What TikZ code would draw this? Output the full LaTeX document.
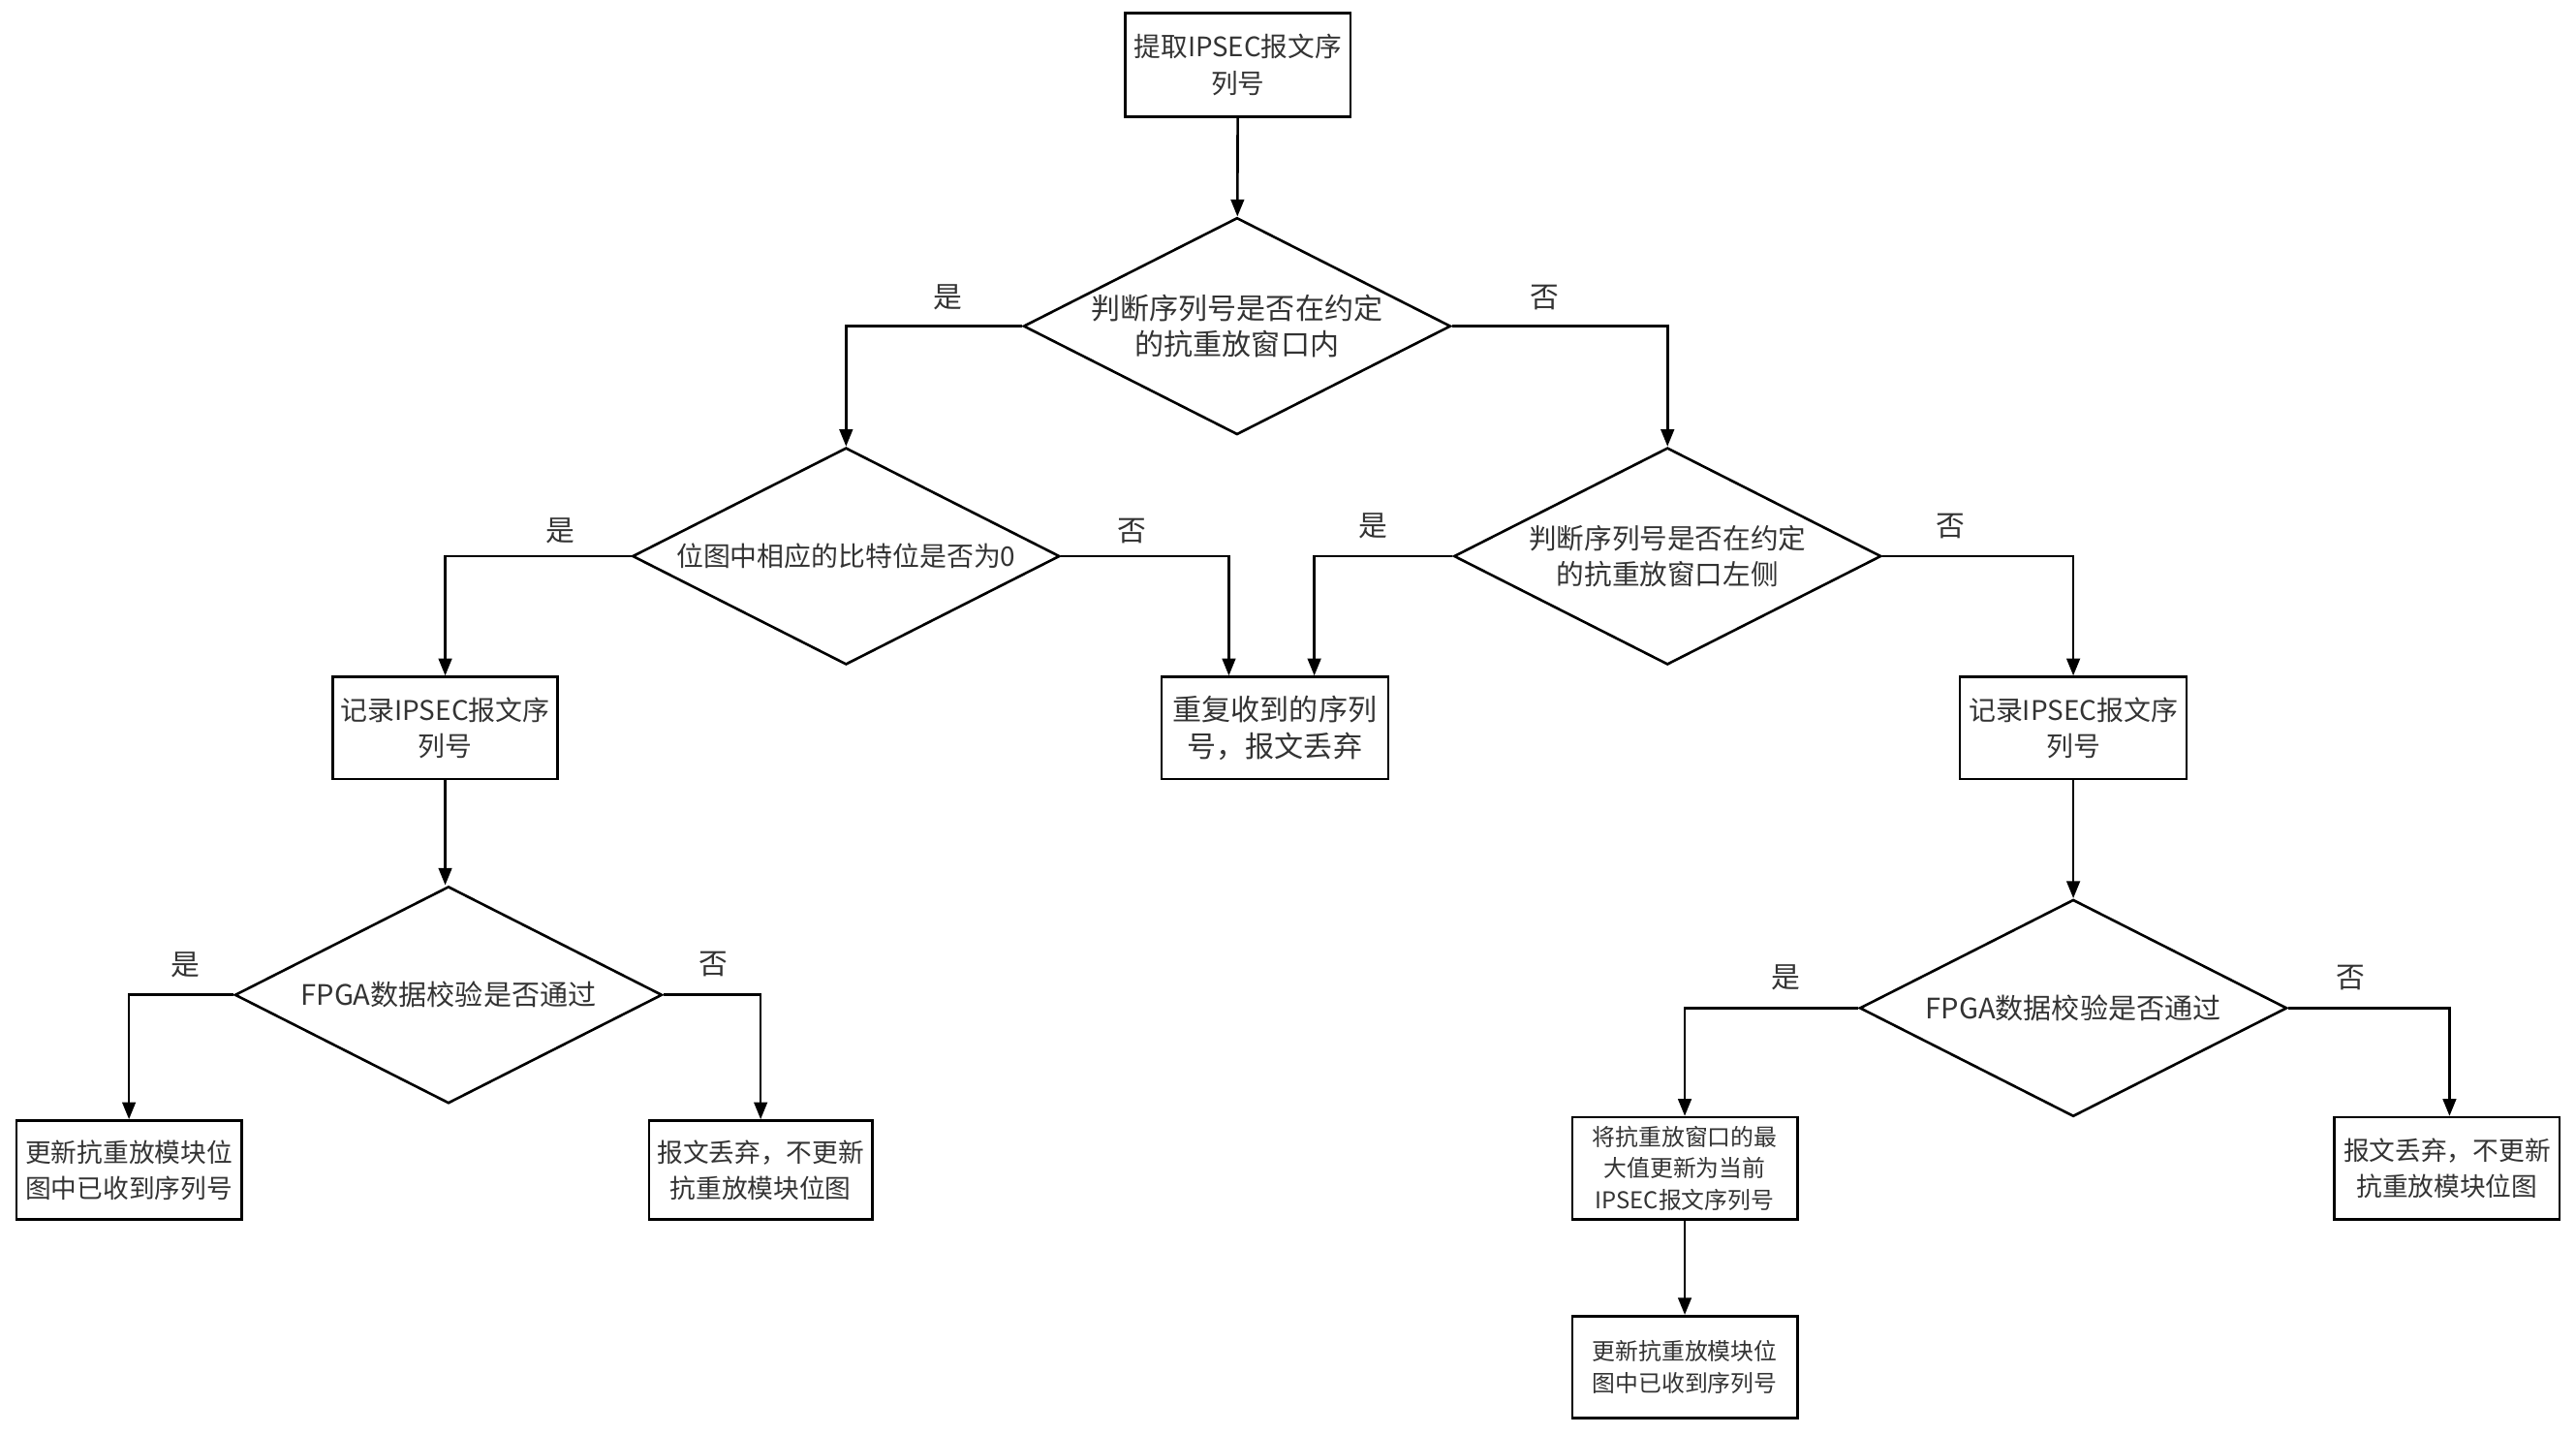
\documentclass[tikz,border=0pt]{standalone}
\usepackage{fontspec}
\newfontfamily\cjk{Noto Sans CJK SC}
\usetikzlibrary{arrows.meta,shapes.geometric,calc}
\begin{document}
\begin{tikzpicture}[x=0.025cm,y=-0.025cm,line width=1.1pt,
  txt/.style={font=\cjk\fontsize{11.7}{15.5}\selectfont, align=center, text=black!80, inner sep=0pt},
  bigtxt/.style={txt, font=\cjk\fontsize{12.6}{15.8}\selectfont},
  midtxt/.style={txt, font=\cjk\fontsize{11.2}{15.5}\selectfont},
  smalltxt/.style={txt, font=\cjk\fontsize{10}{13.5}\selectfont},
  lbl/.style={font=\cjk\fontsize{12.5}{15}\selectfont, text=black!80, inner sep=0pt},
  box/.style={draw, rectangle, inner sep=0pt, minimum width=3.425cm, minimum height=1.55cm},
  dia/.style={draw, diamond, inner sep=0pt, minimum width=6.5cm, minimum height=3.3cm},
  arr/.style={-{Triangle[length=0.26cm,width=0.2cm]}}]
\useasboundingbox (0,0) rectangle (1568,873);

% nodes
\node[box, minimum height=1.575cm] (A) at (753.5,39.5) {};
\node[txt, font=\cjk\fontsize{11.6}{15.8}\selectfont] (tA) at (A) {提取IPSEC报文序\\列号};

\node[dia] (D1) at (753,198.5) {};
\node[bigtxt] (tD1) at (D1) {判断序列号是否在约定\\的抗重放窗口内};

\node[dia] (D2) at (515,338.5) {};
\node[txt] (tD2) at (D2) {位图中相应的比特位是否为0};

\node[dia] (D3) at (1015,338.5) {};
\node[txt, font=\cjk\fontsize{12}{15.5}\selectfont] (tD3) at (D3) {判断序列号是否在约定\\的抗重放窗口左侧};

\node[box] (B) at (271,443) {};
\node[txt] (tB) at (B) {记录IPSEC报文序\\列号};

\node[box, minimum width=3.45cm] (C) at (776,443) {};
\node[bigtxt] (tC) at (C) {重复收到的序列\\号，报文丢弃};

\node[box, minimum width=3.45cm] (E) at (1262,443) {};
\node[txt] (tE) at (E) {记录IPSEC报文序\\列号};

\node[dia] (D4) at (273,605.5) {};
\node[txt, font=\cjk\fontsize{12.2}{15.5}\selectfont] (tD4) at (D4) {FPGA数据校验是否通过};

\node[dia] (D5) at (1262,613.5) {};
\node[txt, font=\cjk\fontsize{12.2}{15.5}\selectfont] (tD5) at (D5) {FPGA数据校验是否通过};

\node[box, minimum height=1.5cm] (F) at (78.5,712) {};
\node[midtxt] (tF) at (F) {更新抗重放模块位\\图中已收到序列号};

\node[box, minimum height=1.5cm, minimum width=3.4cm] (G) at (463,712) {};
\node[midtxt] (tG) at (G) {报文丢弃，不更新\\抗重放模块位图};

\node[box, minimum height=1.55cm] (H) at (1025.5,711) {};
\node[smalltxt] (tH) at (H) {将抗重放窗口的最\\大值更新为当前\\IPSEC报文序列号};

\node[box, minimum height=1.55cm] (I) at (1489.5,711) {};
\node[midtxt] (tI) at (I) {报文丢弃，不更新\\抗重放模块位图};

\node[box, minimum height=1.55cm] (J) at (1025.5,832) {};
\node[smalltxt] (tJ) at (J) {更新抗重放模块位\\图中已收到序列号};

% labels
\node[lbl] (l1) at (577,181) {是};
\node[lbl] (l2) at (940,181) {否};
\node[lbl] (l3) at (341,323) {是};
\node[lbl] (l4) at (689,323) {否};
\node[lbl] (l5) at (836,320) {是};
\node[lbl] (l6) at (1187,320) {否};
\node[lbl] (l7) at (113,587) {是};
\node[lbl] (l8) at (434,587) {否};
\node[lbl] (l9) at (1087,595) {是};
\node[lbl] (l10) at (1431,595) {否};

% connectors
\draw[arr] (A) -- (D1);
\draw[arr] (D1.west) -| (D2.north);
\draw[arr] (D1.east) -| (D3.north);
\draw[arr] (D2.west) -| (B.north);
\draw[arr] (D2.east) -| ($(C.north)+(-28,0)$);
\draw[arr] (D3.west) -| ($(C.north)+(24,0)$);
\draw[arr] (D3.east) -| (E.north);
\draw[arr] (B.south) -- (B.south |- D4.north);
\draw[arr] (E) -- (D5);
\draw[arr] (D4.west) -| (F.north);
\draw[arr] (D4.east) -| (G.north);
\draw[arr] (D5.west) -| (H.north);
\draw[arr] (D5.east) -| ($(I.north)+(1.5,0)$);
\draw[arr] (H) -- (J);
\end{tikzpicture}
\end{document}
